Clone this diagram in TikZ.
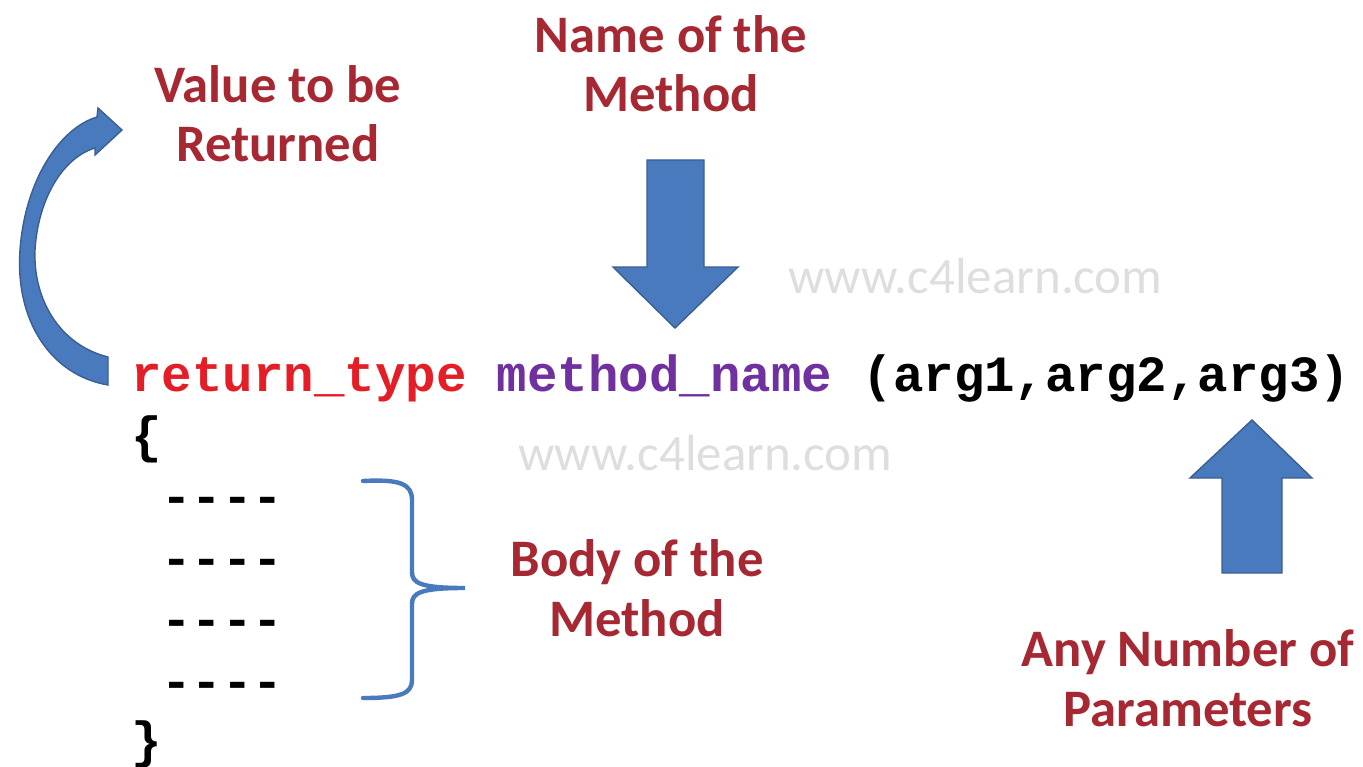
\documentclass[tikz,border=0pt]{standalone}
\usepackage{fontspec}
\setmainfont{Carlito}
\newfontfamily\codefont{Liberation Mono}
\usetikzlibrary{positioning}
\definecolor{labelred}{RGB}{165,40,50}
\definecolor{codered}{RGB}{228,30,38}
\definecolor{codepurple}{RGB}{112,48,160}
\definecolor{arrowblue}{RGB}{74,122,190}
\definecolor{arrowedge}{RGB}{58,94,148}
\definecolor{markgray}{RGB}{222,222,222}
\tikzset{
  titletext/.style={font=\fontsize{30}{34}\selectfont\bfseries, text=labelred, align=center, inner sep=0pt, anchor=base},
  code/.style={font=\codefont\bfseries\fontsize{28.9}{34}\selectfont, anchor=base west, inner sep=0pt},
  watermark/.style={font=\fontsize{29}{30}\selectfont, text=markgray, anchor=base west, inner sep=0pt},
  blockarrow/.style={fill=arrowblue, draw=arrowedge, line width=0.8pt, line join=miter},
  bracket/.style={draw=arrowblue, line width=2.5pt, line cap=round}
}

\begin{document}
\begin{tikzpicture}[x=0.02cm,y=-0.02cm]
    \useasboundingbox (0,0) rectangle (1363,767);
    \node [watermark] (mark1) at (788,293) {www.c4learn.com};
    \node [watermark] (mark2) at (518,470) {www.c4learn.com};

    \node [titletext] (value) at (278,162) {Value to be\\Returned};
    \node [titletext] (name) at (671,112) {Name of the\\Method};
    \node [titletext] (body) at (637,636) {Body of the\\Method};
    \node [titletext] (params) at (1188,726) {Any Number of\\Parameters};

    \node [code] (head) at (131,391) {{\color{codered}return\_type} {\color{codepurple}method\_name} (arg1,arg2,arg3)};
    \node [code] (open) at (131,452) {\{};
    \foreach \i in {1,...,4}
      \node [code] (line\i) at (161,452+61.5*\i) {----};
    \node [code] (close) at (131,757) {\}};

    \draw [blockarrow] (647,160) -- (704,160) -- (704,267) -- (738,267) -- (675,328) -- (613,267) -- (647,267) -- cycle;
    \draw [blockarrow] (1222,573) -- (1282,573) -- (1282,478) -- (1312,478) -- (1252,420) -- (1190,478) -- (1222,478) -- cycle;
    \draw [blockarrow] (108,357) -- (108,385) .. controls (50,375) and (15,320) .. (20,250)
      .. controls (25,180) and (60,128) .. (97,117) -- (98,108) -- (122,130) -- (95,155) -- (95,148)
      .. controls (62,158) and (38,200) .. (35,250) .. controls (33,300) and (60,345) .. (108,357) -- cycle;

    \draw [bracket] (363,481) .. controls (400,479) and (412,484) .. (412,500) -- (412,572)
      .. controls (412,583) and (420,588) .. (465,588)
      .. controls (420,588) and (412,593) .. (412,604) -- (412,680)
      .. controls (412,694) and (400,698) .. (363,698);
  \end{tikzpicture}
\end{document}
